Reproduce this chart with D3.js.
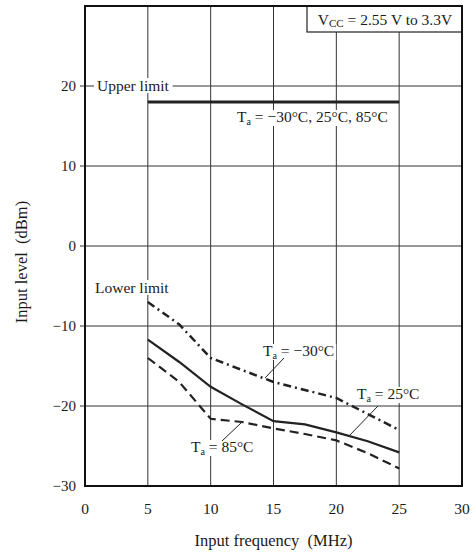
<!DOCTYPE html>
<html>
<head>
<meta charset="utf-8">
<script src="https://cdn.jsdelivr.net/npm/d3@7"></script>
<style>
  body { margin: 0; background: #fff; }
  svg text { font-family: "Liberation Serif", "Times New Roman", serif; fill: #1a1a1a; }
</style>
</head>
<body>
<div id="chart"></div>
<script>
// data (MHz -> dBm)
const xTicks = [0, 5, 10, 15, 20, 25, 30];
const yTicks = [-30, -20, -10, 0, 10, 20];
const upperFreq = [5, 25];
const upperLevel = [18, 18];
const freqLow = [5, 7.5, 10, 12.5, 15, 17.5, 20, 22.5, 25];
const levelM30 = [-7, -9.8, -14, -15.5, -17, -18, -19, -21, -23];
const level25 = [-11.7, -14.5, -17.6, -19.8, -21.9, -22.3, -23.3, -24.4, -25.8];
const level85 = [-14, -17, -21.6, -22, -22.8, -23.5, -24.3, -25.9, -27.8];

const width = 472;
const height = 556;
const margin = { top: 6, right: 10, bottom: 70, left: 85 };

const x = d3.scaleLinear().domain([0, 30]).range([margin.left, width - margin.right]);
const y = d3.scaleLinear().domain([-30, 30]).range([height - margin.bottom, margin.top]);

const svg = d3.select("#chart").append("svg").attr("width", width).attr("height", height);

// grid
svg.append("g")
  .selectAll("line")
  .data(xTicks.slice(1, -1))
  .enter().append("line")
  .attr("x1", d => x(d)).attr("x2", d => x(d))
  .attr("y1", y(30)).attr("y2", y(-30))
  .attr("stroke", "#333").attr("stroke-width", 1);
svg.append("g")
  .selectAll("line")
  .data(yTicks.slice(1))
  .enter().append("line")
  .attr("x1", x(0) - 5).attr("x2", x(30))
  .attr("y1", d => y(d)).attr("y2", d => y(d))
  .attr("stroke", "#333").attr("stroke-width", 1);

// tick labels
svg.append("g")
  .selectAll("text")
  .data(yTicks)
  .enter().append("text")
  .attr("x", x(0) - 9).attr("y", d => y(d) + 5)
  .attr("text-anchor", "end").attr("font-size", 15)
  .text(d => d < 0 ? "\u2212" + Math.abs(d) : d);
svg.append("g")
  .selectAll("text")
  .data(xTicks)
  .enter().append("text")
  .attr("x", d => x(d)).attr("y", y(-30) + 28)
  .attr("text-anchor", "middle").attr("font-size", 15.5)
  .text(d => d);

// axis titles
svg.append("text")
  .attr("x", (x(0) + x(30)) / 2).attr("y", 546)
  .attr("text-anchor", "middle").attr("font-size", 16.5)
  .text("Input frequency\u00a0\u00a0(MHz)");
svg.append("text")
  .attr("transform", "translate(27,262) rotate(-90)")
  .attr("text-anchor", "middle").attr("font-size", 16.5)
  .text("Input level\u00a0\u00a0(dBm)");

// lines
const line = d3.line().x(d => x(d[0])).y(d => y(d[1]));
const zip = (a, b) => a.map((v, i) => [v, b[i]]);

svg.append("path")
  .attr("d", line(zip(upperFreq, upperLevel)))
  .attr("fill", "none").attr("stroke", "#222").attr("stroke-width", 3);
svg.append("path")
  .attr("d", line(zip(freqLow, levelM30)))
  .attr("fill", "none").attr("stroke", "#222").attr("stroke-width", 2.5)
  .attr("stroke-dasharray", "8,4,2,4");
svg.append("path")
  .attr("d", line(zip(freqLow, level25)))
  .attr("fill", "none").attr("stroke", "#222").attr("stroke-width", 2.2);
svg.append("path")
  .attr("d", line(zip(freqLow, level85)))
  .attr("fill", "none").attr("stroke", "#222").attr("stroke-width", 2.2)
  .attr("stroke-dasharray", "9,5");

// labels with white background
const boxLabel = (tx, ty, txt) => {
  const t = svg.append("text").attr("x", tx).attr("y", ty).attr("font-size", 15.5).text(txt);
  const b = t.node().getBBox();
  svg.insert("rect", () => t.node())
    .attr("x", b.x - 3).attr("y", b.y + 1).attr("width", b.width + 6).attr("height", b.height - 2)
    .attr("fill", "#fff");
};
boxLabel(97, y(20) + 5, "Upper limit");
boxLabel(95, 293, "Lower limit");

// Ta labels
const taLabel = (tx, ty, rest) => {
  const t = svg.append("text").attr("x", tx).attr("y", ty).attr("font-size", 15.5);
  t.append("tspan").text("T");
  t.append("tspan").attr("font-size", 10).attr("dy", 3).text("a");
  t.append("tspan").attr("dy", -3).text(" = " + rest);
  const b = t.node().getBBox();
  svg.insert("rect", () => t.node())
    .attr("x", b.x - 2).attr("y", b.y + 2).attr("width", b.width + 4).attr("height", b.height - 3)
    .attr("fill", "#fff");
};
taLabel(237, 122, "\u221230\u00b0C, 25\u00b0C, 85\u00b0C");
taLabel(263, 356, "\u221230\u00b0C");
taLabel(357, 399, "25\u00b0C");
taLabel(191, 452, "85\u00b0C");

const pointer = (x1, y1, x2, y2) => svg.append("line")
  .attr("x1", x1).attr("y1", y1).attr("x2", x2).attr("y2", y2)
  .attr("stroke", "#222").attr("stroke-width", 1);
pointer(284, 358, 265, 378);
pointer(378, 406, 348, 437);
pointer(222, 441, 241, 423);

// Vcc box
svg.append("rect")
  .attr("x", 307).attr("y", y(30)).attr("width", x(30) - 307).attr("height", 26)
  .attr("fill", "#fff").attr("stroke", "#222").attr("stroke-width", 1.2);
const v = svg.append("text").attr("x", 385).attr("y", y(30) + 19)
  .attr("text-anchor", "middle").attr("font-size", 15.5);
v.append("tspan").text("V");
v.append("tspan").attr("font-size", 11).attr("dy", 2).text("CC");
v.append("tspan").attr("dy", -2).text(" = 2.55 V to 3.3V");

// frame
svg.append("rect")
  .attr("x", x(0)).attr("y", y(30)).attr("width", x(30) - x(0)).attr("height", y(-30) - y(30))
  .attr("fill", "none").attr("stroke", "#111").attr("stroke-width", 2);
</script>
</body>
</html>
